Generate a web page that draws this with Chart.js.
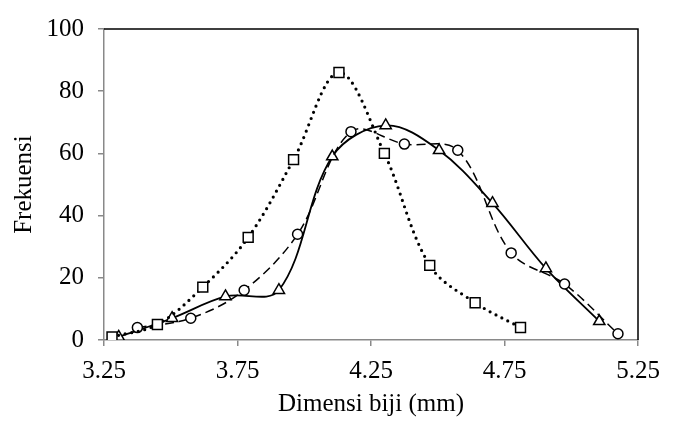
<!DOCTYPE html>
<html>
<head>
<meta charset="utf-8">
<script src="https://cdn.jsdelivr.net/npm/chart.js@4/dist/chart.umd.min.js"></script>
<style>
  html, body { margin: 0; padding: 0; background: #ffffff; }
  #wrap { width: 673px; height: 421px; position: relative; }
</style>
</head>
<body>
<div id="wrap"><canvas id="c" width="673" height="421"></canvas></div>
<script>
// ---- data ----
const squareX   = [3.28, 3.45, 3.62, 3.79, 3.96, 4.13, 4.30, 4.47, 4.64, 4.81];
const squareY   = [1, 5, 17, 33, 58, 86, 60, 24, 12, 4];
const circleX   = [3.375, 3.575, 3.775, 3.975, 4.175, 4.375, 4.575, 4.775, 4.975, 5.175];
const circleY   = [4, 7, 16, 34, 67, 63, 61, 28, 18, 2];
const triangleX = [3.305, 3.505, 3.705, 3.905, 4.105, 4.305, 4.505, 4.705, 4.905, 5.105];
const triangleY = [1, 7, 14, 16, 59, 69, 61, 44, 23, 6];
const xTicks = [3.25, 3.75, 4.25, 4.75, 5.25];
const yTicks = [0, 20, 40, 60, 80, 100];
const xTitle = 'Dimensi biji (mm)';
const yTitle = 'Frekuensi';

function pts(xs, ys) { return xs.map((x, i) => ({ x: x, y: ys[i] })); }

const FONT = "'Liberation Serif', 'Times New Roman', serif";
const AXIS_GRAY = '#898989';

const frame = {
  id: 'frame',
  afterDatasetsDraw(chart) {
    const { ctx, chartArea: a } = chart;
    ctx.save();
    ctx.strokeStyle = '#000000';
    ctx.lineWidth = 1.5;
    ctx.beginPath();
    ctx.moveTo(a.left, a.top);
    ctx.lineTo(a.right, a.top);
    ctx.lineTo(a.right, a.bottom);
    ctx.stroke();
    ctx.restore();
  }
};

new Chart(document.getElementById('c'), {
  type: 'scatter',
  data: {
    datasets: [
      {
        label: 'Kotak',
        data: pts(squareX, squareY),
        showLine: true,
        tension: 0.35,
        borderColor: '#000000',
        borderWidth: 3.2,
        borderDash: [0, 6.7],
        borderCapStyle: 'round',
        pointStyle: 'rect',
        pointRadius: 7,
        pointBorderWidth: 1.5,
        pointBorderColor: '#000000',
        pointBackgroundColor: '#ffffff'
      },
      {
        label: 'Lingkaran',
        data: pts(circleX, circleY),
        showLine: true,
        tension: 0.35,
        borderColor: '#000000',
        borderWidth: 1.5,
        borderDash: [9, 5],
        pointStyle: 'circle',
        pointRadius: 5,
        pointBorderWidth: 1.5,
        pointBorderColor: '#000000',
        pointBackgroundColor: '#ffffff'
      },
      {
        label: 'Segitiga',
        data: pts(triangleX, triangleY),
        showLine: true,
        tension: 0.35,
        borderColor: '#000000',
        borderWidth: 1.8,
        pointStyle: 'triangle',
        pointRadius: 6.5,
        pointBorderWidth: 1.5,
        pointBorderColor: '#000000',
        pointBackgroundColor: '#ffffff'
      }
    ]
  },
  options: {
    responsive: false,
    animation: false,
    layout: { padding: { left: 0, top: 22, right: 35, bottom: 0 } },
    plugins: {
      legend: { display: false },
      tooltip: { enabled: false }
    },
    scales: {
      x: {
        type: 'linear',
        min: 3.25,
        max: 5.25,
        afterBuildTicks: (s) => { s.ticks = xTicks.map(v => ({ value: v })); },
        afterFit: (s) => { s.height = 81; },
        grid: { display: true, drawOnChartArea: false, drawTicks: true, tickLength: 6, color: AXIS_GRAY, lineWidth: 1.5 },
        border: { display: true, color: AXIS_GRAY, width: 1.5 },
        ticks: {
          padding: 10,
          color: '#000000',
          font: { family: FONT, size: 25 },
          callback: (v) => Number(v).toFixed(2)
        },
        title: {
          display: true,
          text: xTitle,
          color: '#000000',
          font: { family: FONT, size: 25 },
          padding: { top: 0, bottom: 2 }
        }
      },
      y: {
        min: 0,
        max: 100,
        afterBuildTicks: (s) => { s.ticks = yTicks.map(v => ({ value: v })); },
        afterFit: (s) => { s.width = 104; },
        grid: { display: true, drawOnChartArea: false, drawTicks: true, tickLength: 6, color: AXIS_GRAY, lineWidth: 1.5 },
        border: { display: true, color: AXIS_GRAY, width: 1.5 },
        ticks: {
          padding: 14,
          color: '#000000',
          font: { family: FONT, size: 25 }
        },
        title: {
          display: true,
          text: yTitle,
          color: '#000000',
          font: { family: FONT, size: 25 },
          padding: { top: 9, bottom: 0 }
        }
      }
    }
  },
  plugins: [frame]
});
</script>
</body>
</html>
